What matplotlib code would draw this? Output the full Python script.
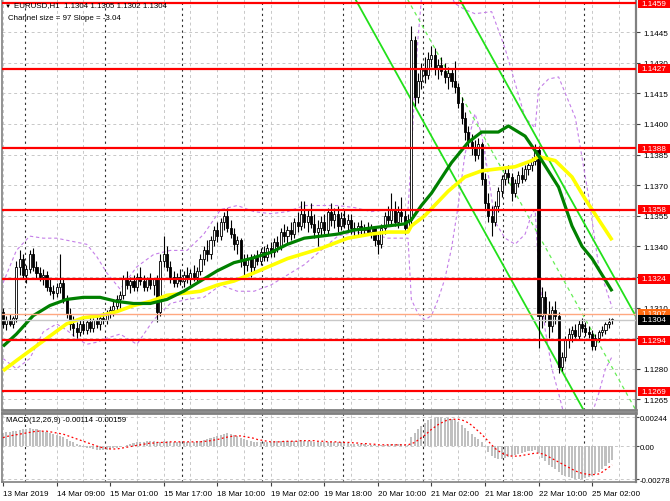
import matplotlib
matplotlib.use("Agg")
import matplotlib.pyplot as plt
import matplotlib.transforms as mtransforms
from matplotlib.patches import Rectangle
import numpy as np

plt.rcParams['font.family'] = ['Liberation Sans', 'DejaVu Sans']

# ---------------- data ----------------
opens = [1.1308,1.1302,1.1304,1.1302,1.1305,1.1330,1.1334,1.1326,1.1329,1.1336,
         1.1330,1.1327,1.1325,1.1326,1.1320,1.1318,1.1317,1.1320,1.1322,1.1314,
         1.1307,1.1302,1.1300,1.1298,1.1302,1.1299,1.1303,1.1300,1.1304,1.1302,
         1.1305,1.1304,1.1307,1.1309,1.1311,1.1314,1.1316,1.1324,1.1321,1.1323,
         1.1320,1.1325,1.1323,1.1320,1.1324,1.1321,1.1324,1.1308,1.1333,1.1336,
         1.1330,1.1325,1.1322,1.1325,1.1323,1.1326,1.1324,1.1327,1.1325,1.1328,
         1.1334,1.1338,1.1336,1.1343,1.1348,1.1345,1.1352,1.1355,1.1349,1.1346,
         1.1341,1.1343,1.1333,1.1331,1.1334,1.1330,1.1335,1.1333,1.1337,1.1335,
         1.1339,1.1337,1.1342,1.1340,1.1347,1.1345,1.1348,1.1346,1.1352,1.1350,
         1.1356,1.1352,1.1355,1.1351,1.1347,1.1349,1.1352,1.1348,1.1357,1.1353,
         1.1356,1.1350,1.1354,1.1351,1.1353,1.1349,1.1348,1.1350,1.1348,1.1349,
         1.1347,1.1349,1.1343,1.1341,1.1349,1.1355,1.1353,1.1358,1.1352,1.1357,
         1.1355,1.1349,1.1353,1.1441,1.1413,1.1421,1.1427,1.1424,1.1432,1.1434,
         1.1427,1.1429,1.1426,1.1423,1.1425,1.1421,1.1418,1.1410,1.1403,1.1396,
         1.1391,1.1388,1.1385,1.1390,1.1373,1.1361,1.1355,1.1352,1.1360,1.1367,
         1.1373,1.1376,1.1374,1.1366,1.1371,1.1375,1.1373,1.1378,1.1380,1.1382,
         1.1387,1.1306,1.1315,1.1307,1.1301,1.1309,1.1306,1.1281,1.1286,1.1294,
         1.1297,1.1299,1.1296,1.1302,1.1300,1.1298,1.1297,1.1291,1.1295,1.1298,
         1.1299,1.1302,1.1304]
highs = [1.1310,1.1306,1.1307,1.1306,1.1333,1.1338,1.1336,1.1331,1.1338,1.1339,
         1.1333,1.1330,1.1329,1.1328,1.1324,1.1321,1.1322,1.1336,1.1324,1.1316,
         1.1310,1.1306,1.1303,1.1304,1.1305,1.1304,1.1306,1.1305,1.1307,1.1306,
         1.1308,1.1309,1.1311,1.1313,1.1316,1.1318,1.1326,1.1328,1.1325,1.1326,
         1.1327,1.1330,1.1326,1.1325,1.1327,1.1324,1.1326,1.1336,1.1345,1.1340,
         1.1333,1.1328,1.1327,1.1329,1.1328,1.1330,1.1329,1.1331,1.1330,1.1336,
         1.1340,1.1343,1.1345,1.1350,1.1352,1.1354,1.1357,1.1359,1.1353,1.1349,
         1.1345,1.1344,1.1336,1.1336,1.1336,1.1336,1.1338,1.1339,1.1340,1.1341,
         1.1342,1.1344,1.1345,1.1349,1.1351,1.1350,1.1352,1.1354,1.1357,1.1362,
         1.1362,1.1358,1.1361,1.1356,1.1353,1.1355,1.1356,1.1359,1.1361,1.1359,
         1.1360,1.1357,1.1358,1.1356,1.1356,1.1352,1.1352,1.1353,1.1351,1.1352,
         1.1351,1.1350,1.1346,1.1351,1.1357,1.1360,1.1366,1.1362,1.1360,1.1364,
         1.1358,1.1356,1.1448,1.1443,1.1425,1.1430,1.1433,1.1435,1.1438,1.1437,
         1.1432,1.1433,1.1430,1.1428,1.1427,1.1431,1.1420,1.1413,1.1406,1.1399,
         1.1395,1.1392,1.1393,1.1391,1.1376,1.1366,1.1360,1.1362,1.1369,1.1375,
         1.1379,1.1380,1.1376,1.1373,1.1377,1.1379,1.1380,1.1382,1.1384,1.1390,
         1.1389,1.1320,1.1318,1.1313,1.1311,1.1313,1.1308,1.1288,1.1296,1.1300,
         1.1301,1.1302,1.1304,1.1305,1.1303,1.1301,1.1299,1.1297,1.1299,1.1301,
         1.1303,1.1305,1.1305]
lows = [1.1300,1.1299,1.1301,1.1300,1.1303,1.1326,1.1324,1.1322,1.1327,1.1328,
        1.1324,1.1323,1.1321,1.1318,1.1316,1.1314,1.1315,1.1317,1.1312,1.1305,
        1.1299,1.1296,1.1295,1.1296,1.1297,1.1297,1.1298,1.1298,1.1300,1.1299,
        1.1302,1.1302,1.1305,1.1306,1.1309,1.1310,1.1314,1.1319,1.1317,1.1318,
        1.1318,1.1321,1.1318,1.1318,1.1319,1.1316,1.1303,1.1306,1.1330,1.1328,
        1.1322,1.1320,1.1320,1.1321,1.1320,1.1322,1.1321,1.1323,1.1322,1.1326,
        1.1331,1.1333,1.1334,1.1340,1.1342,1.1343,1.1348,1.1347,1.1344,1.1338,
        1.1336,1.1330,1.1326,1.1328,1.1325,1.1328,1.1331,1.1331,1.1333,1.1333,
        1.1335,1.1335,1.1337,1.1338,1.1342,1.1341,1.1343,1.1344,1.1347,1.1348,
        1.1349,1.1347,1.1349,1.1344,1.1340,1.1345,1.1346,1.1346,1.1350,1.1349,
        1.1347,1.1348,1.1349,1.1347,1.1346,1.1345,1.1345,1.1346,1.1345,1.1346,
        1.1344,1.1340,1.1336,1.1339,1.1346,1.1350,1.1351,1.1350,1.1349,1.1352,
        1.1346,1.1347,1.1351,1.1409,1.1410,1.1417,1.1420,1.1422,1.1428,1.1424,
        1.1422,1.1424,1.1420,1.1417,1.1418,1.1415,1.1408,1.1400,1.1392,1.1388,
        1.1385,1.1382,1.1383,1.1370,1.1358,1.1352,1.1345,1.1350,1.1357,1.1364,
        1.1370,1.1371,1.1362,1.1364,1.1369,1.1371,1.1372,1.1375,1.1377,1.1380,
        1.1290,1.1300,1.1303,1.1295,1.1298,1.1302,1.1278,1.1279,1.1284,1.1290,
        1.1293,1.1295,1.1294,1.1298,1.1296,1.1295,1.1289,1.1289,1.1293,1.1296,
        1.1297,1.1300,1.1302]
closes = [1.1302,1.1304,1.1302,1.1305,1.1330,1.1334,1.1326,1.1329,1.1336,1.1330,
          1.1327,1.1325,1.1326,1.1320,1.1318,1.1317,1.1320,1.1322,1.1314,1.1307,
          1.1302,1.1300,1.1298,1.1302,1.1299,1.1303,1.1300,1.1304,1.1302,1.1305,
          1.1304,1.1307,1.1309,1.1311,1.1314,1.1316,1.1324,1.1321,1.1323,1.1320,
          1.1325,1.1323,1.1320,1.1324,1.1321,1.1324,1.1308,1.1333,1.1336,1.1330,
          1.1325,1.1322,1.1325,1.1323,1.1326,1.1324,1.1327,1.1325,1.1328,1.1334,
          1.1338,1.1336,1.1343,1.1348,1.1345,1.1352,1.1355,1.1349,1.1346,1.1341,
          1.1343,1.1333,1.1331,1.1334,1.1330,1.1335,1.1333,1.1337,1.1335,1.1339,
          1.1337,1.1342,1.1340,1.1347,1.1345,1.1348,1.1346,1.1352,1.1350,1.1356,
          1.1352,1.1355,1.1351,1.1347,1.1349,1.1352,1.1348,1.1357,1.1353,1.1356,
          1.1350,1.1354,1.1351,1.1353,1.1349,1.1348,1.1350,1.1348,1.1349,1.1347,
          1.1349,1.1343,1.1341,1.1349,1.1355,1.1353,1.1358,1.1352,1.1357,1.1355,
          1.1349,1.1353,1.1441,1.1413,1.1421,1.1427,1.1424,1.1432,1.1434,1.1427,
          1.1429,1.1426,1.1423,1.1425,1.1421,1.1418,1.1410,1.1403,1.1396,1.1391,
          1.1388,1.1385,1.1390,1.1373,1.1361,1.1355,1.1352,1.1360,1.1367,1.1373,
          1.1376,1.1374,1.1366,1.1371,1.1375,1.1373,1.1378,1.1380,1.1382,1.1387,
          1.1306,1.1315,1.1307,1.1301,1.1309,1.1306,1.1281,1.1286,1.1294,1.1297,
          1.1299,1.1296,1.1302,1.1300,1.1298,1.1297,1.1291,1.1295,1.1298,1.1299,
          1.1302,1.1303,1.1304]

# moving averages read at sample bars
ma_green_bars = [0,4,9,14,19,24,29,34,39,44,49,54,59,64,69,74,80,85,90,95,100,105,110,
                 115,120,122,125,128,134,139,143,148,151,156,161,166,170,173,176,179,182]
ma_green = [1.1291,1.1297,1.1306,1.1311,1.1314,1.1315,1.1315,1.1313,1.1312,1.1312,
            1.1314,1.1318,1.1323,1.1328,1.1332,1.1334,1.1337,1.1341,1.1344,1.1345,
            1.1346,1.1348,1.1349,1.1350,1.1351,1.1353,1.1360,1.1366,1.1381,1.1391,
            1.1396,1.1396,1.1399,1.1394,1.1382,1.1369,1.1350,1.1340,1.1334,1.1326,1.1318]
ma_yellow_bars = [0,4,9,14,19,24,29,34,39,44,49,54,59,64,69,75,85,95,103,110,115,121,
                  122,126,133,138,143,148,153,158,160,165,170,174,182]
ma_yellow = [1.1279,1.1284,1.1290,1.1296,1.1302,1.1305,1.1306,1.1308,1.1311,1.1313,
             1.1316,1.1317,1.1318,1.1321,1.1323,1.1327,1.1334,1.1339,1.1344,1.1346,
             1.1347,1.1347,1.1350,1.1355,1.1367,1.1374,1.1377,1.1378,1.1379,1.1382,
             1.1384,1.1382,1.1374,1.1363,1.1343]

# Bollinger bands (violet dashed), read at sample bars
bb_upper_bars = [0,4,8,12,16,19,22,25,28,31,35,40,45,50,55,60,65,70,75,80,85,90,95,100,105,
                 110,115,121,122,123,124,125,128,132,135,138,141,146,150,153,156,159,160,163,
                 166,171,175,178,182]
bb_upper = [1.1322,1.1338,1.1345,1.1344,1.1344,1.1343,1.1342,1.1341,1.1335,1.1327,
            1.1319,1.1330,1.1336,1.1338,1.1338,1.1346,1.1358,1.1360,1.1357,1.1356,
            1.1357,1.1360,1.1360,1.1360,1.1359,1.1357,1.1358,1.1358,1.1385,1.1417,
            1.1442,1.1461,1.1475,1.1470,1.1459,1.1456,1.1454,1.1455,1.1437,1.1420,
            1.1403,1.1398,1.1417,1.1422,1.1423,1.1403,1.1364,1.1330,1.1310]
bb_lower_bars = [0,4,8,12,16,19,22,25,28,31,35,40,45,50,55,60,65,70,75,80,85,90,95,100,105,
                 110,115,121,122,124,126,128,130,132,134,136,138,141,143,145,147,150,153,156,
                 158,159,160,162,164,166,168,170,172,174,176,178,180,182]
bb_lower = [1.1285,1.1280,1.1285,1.1298,1.1302,1.1299,1.1295,1.1292,1.1293,1.1295,
            1.1297,1.1292,1.1304,1.1312,1.1314,1.1315,1.1321,1.1318,1.1318,1.1321,
            1.1326,1.1331,1.1338,1.1345,1.1347,1.1346,1.1344,1.1344,1.1314,1.1307,
            1.1304,1.1306,1.1314,1.1324,1.1339,1.1360,1.1385,1.1405,1.1395,1.1375,
            1.1352,1.1344,1.1341,1.1346,1.1356,1.1358,1.1329,1.1299,1.1280,1.1268,
            1.1255,1.1250,1.1248,1.1250,1.1258,1.1268,1.1280,1.1286]

# regression channel (mid line end points and half width)
channel_bars = [86, 190]
channel_mid = [1.1564, 1.1257]
channel_half = 0.0046

# MACD (units of 0.0001)
macd_main = [11,11.5,12,12.5,13,13.5,14,14.5,15,14.5,14,13.5,13,12,11,10,9,8.5,7.5,6,
             4.5,3,1.5,0.5,-0.5,-1.5,-2,-2.5,-3,-3,-3,-3,-2.5,-2,-1.5,-1,0,1,1.5,2.5,
             3,3.5,3.5,4,4,4,3,3.5,4,4,3.5,3.5,3.5,3.5,3.5,3.5,3.5,3.5,4,4.5,
             5,5.5,6.5,7.5,8.5,9.5,10.5,11,10.5,9.5,8.5,7,6,5,4,3.5,3,3,3,3.5,
             3.5,4,4,4.5,4.5,4.5,4.5,4.5,4.5,5,4.5,4.5,4,3.5,3.5,3.5,3,3.5,3.5,3,
             3,3,2.5,2.5,2,2,1.5,1.5,1.5,1,1,0.5,0,0.5,1,1,1.5,1.5,1.5,1.5,
             1,1,8,11,14,17,19.5,21.5,23,24,24.4,24.2,24,23.5,22.5,21.5,20,18,15.5,13,
             10.5,8,6,3,-1,-5,-8,-10,-11,-11,-10,-9,-8.5,-7.5,-6.5,-6,-5,-4.5,-4,-3.5,
             -6,-10,-13,-16,-18,-19.5,-22,-24,-25.5,-26.5,-27.2,-27.8,-27.8,-27.5,-27,-26,-25,-23.5,-21.5,-19,
             -16.5,-14,-11.4]
macd_signal = [7,8,8.5,9,9.5,10,10.5,11,11.5,12,12.5,12.5,12.5,12.5,12,11.5,11,10.5,10,9,
               8,7,6,5,4,3,2,1,0,-1,-1.5,-2,-2.5,-2.5,-2.5,-2,-1.5,-1,-0.5,0,
               0.5,1,1.5,2,2.5,2.5,3,3,3,3,3.5,3.5,3.5,3.5,3.5,3.5,3.5,3.5,3.5,3.5,
               4,4,4.5,5,5.5,6,7,7.5,8,8.5,8.5,8.5,8,7.5,7,6.5,5.5,5,4.5,4,
               3.5,3.5,3.5,3.5,4,4,4,4,4,4.5,4.5,4.5,4.5,4.5,4,4,4,3.5,3.5,3.5,
               3.5,3,3,3,3,2.5,2.5,2,2,2,1.5,1.5,1,1,1,1,1,1,1,1,
               1,1,2,3,5,7,9,11.5,14,16,18,19.5,21,22,22.5,22.5,22.5,22,21,19.5,
               17.5,15,12.5,10,7,4,1,-2,-4,-6,-7,-8,-8.5,-8.5,-8.5,-8,-7.5,-7,-6.5,-6,
               -6,-6.5,-7.5,-9,-10.5,-12,-13.5,-15,-16.5,-18,-19.5,-21,-22,-23,-23.5,-24,-24,-24,-23.5,-22,
               -20,-18,-15.9]
macd_scale = 1e-4

levels = [1.1459, 1.1427, 1.1388, 1.1358, 1.1324, 1.1294, 1.1269]
ask_level = 1.1307
bid_level = 1.1304
price_ticks = [1.1265,1.1280,1.1295,1.1310,1.1325,1.1340,1.1355,1.1370,1.1385,1.1400,1.1415,1.1430,1.1445]
hidden_ticks = [1.1295, 1.1325]   # fully covered by level boxes in the reference
macd_ticks = [0.00244, 0.0, -0.00278]
macd_tick_labels = ['0.00244', '0.00', '-0.00278']
date_labels = ['13 Mar 2019','14 Mar 09:00','15 Mar 01:00','15 Mar 17:00','18 Mar 10:00',
               '19 Mar 02:00','19 Mar 18:00','20 Mar 10:00','21 Mar 02:00','21 Mar 18:00',
               '22 Mar 10:00','25 Mar 02:00']
date_label_bars = [0,16,32,48,64,80,96,112,128,144,160,176]
day_start_bars = [7,31,54,78,102,126,150,174]
title_text = 'EURUSD,H1  1.1304 1.1305 1.1302 1.1304'
channel_text = 'Channel size = 97 Slope = -3.04'
macd_text = 'MACD(12,26,9) -0.00114 -0.00159'

# ---------------- figure ----------------
W, H = 670, 502
FS = 5.9
fig = plt.figure(figsize=(W/100, H/100), dpi=100)
ax = fig.add_axes([2/W, (H-411)/H, 634/W, 411/H])
axm = fig.add_axes([2/W, (H-483)/H, 634/W, 69/H])

n = len(closes)
x = np.arange(n)
px_per_bar = 3.347
xlim = (-0.3, -0.3 + 634/px_per_bar)
for a in (ax, axm):
    a.set_xlim(*xlim)
    a.set_facecolor('white')
    for s in a.spines.values():
        s.set_color('#808080')
        s.set_linewidth(1.2)
    a.spines['top'].set_visible(False)
    a.spines['right'].set_linewidth(1.6)

ylo, yhi = 1.12598, 1.14612
ax.set_ylim(ylo, yhi)
axm.set_ylim(-0.00303, 0.00278)
ax.spines['bottom'].set_linewidth(2)
axm.spines['top'].set_visible(True)
axm.spines['top'].set_linewidth(2)
price_per_px = (yhi - ylo) / 411

# grid
grid_kw = dict(color='#c8c8c8', lw=0.7, ls=(0, (3, 3)), zorder=0)
for t in price_ticks:
    ax.axhline(t, **grid_kw)
for b in range(0, 190, 8):
    if min(abs(b - d) for d in day_start_bars) > 1:
        ax.axvline(b, **grid_kw)
        axm.axvline(b, **grid_kw)
for d in day_start_bars:
    ax.axvline(d - 0.5, color='#303030', lw=0.8, ls=(0, (2, 3)), zorder=0.5)
    axm.axvline(d - 0.5, color='#303030', lw=0.8, ls=(0, (2, 3)), zorder=0.5)
for t in macd_ticks:
    axm.axhline(t, **grid_kw)

# bands
bb_kw = dict(color='#c47ee8', lw=0.8, ls=(0, (3, 2.5)), zorder=1.5)
ax.plot(bb_upper_bars, bb_upper, **bb_kw)
ax.plot(bb_lower_bars, bb_lower, **bb_kw)

# channel
cm = np.array(channel_mid)
ax.plot(channel_bars, cm + channel_half, color='#22e01a', lw=1.3, zorder=2)
ax.plot(channel_bars, cm - channel_half, color='#22e01a', lw=1.3, zorder=2)
ax.plot(channel_bars, cm, color='#66ee55', lw=0.9, ls=(0, (3, 3)), zorder=2)

# candles
o = np.array(opens); c = np.array(closes); h = np.array(highs); l = np.array(lows)
ax.vlines(x, l, h, color='black', lw=0.8, zorder=3)
body_bottom = np.minimum(o, c)
body_h = np.maximum(np.abs(c - o), 0.00003)
up = c >= o
ax.bar(x[up], body_h[up], bottom=body_bottom[up], width=0.62, color='white',
       edgecolor='black', linewidth=0.6, zorder=3.2)
ax.bar(x[~up], body_h[~up], bottom=body_bottom[~up], width=0.62, color='black',
       edgecolor='black', linewidth=0.6, zorder=3.2)

# moving averages
ax.plot(ma_yellow_bars, ma_yellow, color='#ffff00', lw=2.6, zorder=4, solid_capstyle='butt')
ax.plot(ma_green_bars, ma_green, color='#008000', lw=2.3, zorder=4.1, solid_capstyle='butt')

# levels
for lv in levels:
    ax.axhline(lv, color='#ff0000', lw=1.6, zorder=5)
ax.axhline(ask_level, color='#ffa880', lw=1.0, zorder=4.5)
ax.axhline(bid_level, color='#c8c8c8', lw=1.0, zorder=4.5)

# right price axis
ax.yaxis.tick_right()
ax.set_yticks(price_ticks)
ax.set_yticklabels(['' if t in hidden_ticks else f'{t:.4f}' for t in price_ticks])
ax.tick_params(axis='y', direction='out', length=3, width=0.8, color='#404040',
               labelsize=FS, pad=2, labelcolor='black')
ax.set_xticks([])

trans = mtransforms.blended_transform_factory(ax.transAxes, ax.transData)
box_w = 33 / 634
box_x0 = 1.0 + 1.5 / 634
box_hh = 4.7 * price_per_px

def price_box(val, fc, z):
    ax.add_patch(Rectangle((box_x0, val - box_hh), box_w, 2 * box_hh, transform=trans,
                           facecolor=fc, edgecolor='none', zorder=z, clip_on=False))
    ax.text(box_x0 + box_w / 2, val, f'{val:.4f}', transform=trans, ha='center',
            va='center', fontsize=FS, color='white', zorder=z + 0.1, clip_on=False)

for lv in levels:
    price_box(lv, '#ff0000', 10)
price_box(ask_level, '#ff6a10', 11)
price_box(bid_level, 'black', 12)

# MACD
mm = np.array(macd_main) * macd_scale
ms = np.array(macd_signal) * macd_scale
axm.bar(x, mm, width=0.62, color='#c0c0c0', zorder=2)
axm.plot(x, ms, color='#ff0000', lw=0.9, ls=(0, (1.5, 2)), zorder=3)
axm.yaxis.tick_right()
axm.set_yticks(macd_ticks)
axm.set_yticklabels(macd_tick_labels)
axm.tick_params(axis='y', direction='out', length=2, width=0.8, color='#404040',
                labelsize=5.6, pad=0.6)
axm.set_xticks(date_label_bars)
axm.set_xticklabels(date_labels, ha='left')
axm.tick_params(axis='x', direction='out', length=3, width=0.8, color='#404040',
                labelsize=FS, pad=2.5)
for lab in axm.get_xticklabels():
    lab.set_horizontalalignment('left')

# texts
fig.text(5/W, 1 - 6/H, '\u25bc', fontsize=4.5, va='center', ha='left', color='black')
fig.text(14/W, 1 - 6/H, title_text, fontsize=5.7, va='center', ha='left', color='black')
fig.text(8/W, 1 - 18/H, channel_text, fontsize=5.7, va='center', ha='left', color='black')
fig.text(6/W, 1 - 421/H, macd_text, fontsize=5.7, va='center', ha='left', color='black')

fig.savefig('out.png', dpi=100, facecolor='white')
